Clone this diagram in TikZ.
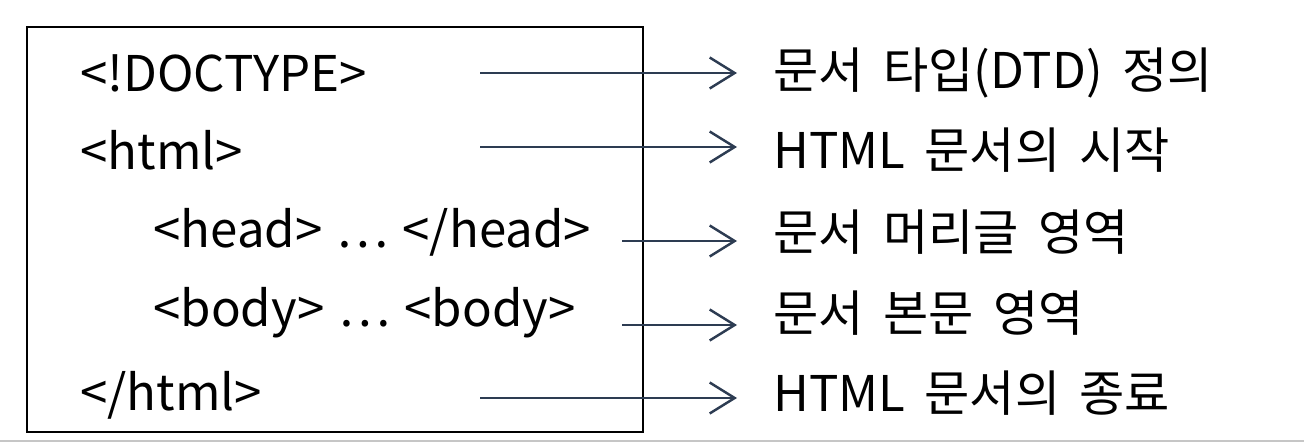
\documentclass[tikz,border=0pt]{standalone}
\usepackage{fontspec}
\setmainfont{Noto Sans CJK KR}
\usetikzlibrary{arrows.meta}
\definecolor{arrowcol}{RGB}{45,60,82}
\newcommand{\codefont}{\fontsize{28}{32}\selectfont\spaceskip=8pt\relax}
\newcommand{\descfont}{\fontsize{28}{32}\selectfont\spaceskip=11pt\relax}
\begin{document}
\begin{tikzpicture}[x=0.02cm,y=-0.02cm,
        code/.style={anchor=west,inner sep=0pt,font=\codefont},
        desc/.style={anchor=west,inner sep=0pt,font=\descfont},
        link/.style={draw=arrowcol,line width=1.4pt,-{Straight Barb[length=0.5cm,width=0.62cm,line width=1.4pt]}}]
    \useasboundingbox (0,0) rectangle (1304,446);

    % Frame
    \node[draw,line width=1.1pt,minimum width=616*0.02cm,minimum height=405*0.02cm,inner sep=0pt] (frame) at (335,229.5) {};
    \draw[gray!45,line width=1.6pt] (0,441) -- (1304,441);

    % Tags
    \node[code] (doctype) at (80,73) {<!DOCTYPE>};
    \node[code] (html) at (80,150) {<html>};
    \node[code] (head) at (153,232) {<head> … </head>};
    \node[code] (body) at (153,313) {<body> … <body>};
    \node[code] (endhtml) at (80,395) {</html>};

    % Descriptions
    \node[desc] (ddoctype) at (773,73) {문서 타입(DTD) 정의};
    \node[desc] (dhtml) at (773,150) {HTML 문서의 시작};
    \node[desc] (dhead) at (773,232) {문서 머리글 영역};
    \node[desc] (dbody) at (773,313) {문서 본문 영역};
    \node[desc] (dendhtml) at (773,393) {HTML 문서의 종료};

    % Arrow ends
    \coordinate (s1) at (480,73);  \coordinate (e1) at (737,73);
    \coordinate (s2) at (480,147); \coordinate (e2) at (737,147);
    \coordinate (s3) at (622,241); \coordinate (e3) at (737,241);
    \coordinate (s4) at (622,325); \coordinate (e4) at (737,325);
    \coordinate (s5) at (480,398); \coordinate (e5) at (737,398);

    % Arrows
    \draw[link] (s1) -- (e1);
    \draw[link] (s2) -- (e2);
    \draw[link] (s3) -- (e3);
    \draw[link] (s4) -- (e4);
    \draw[link] (s5) -- (e5);
\end{tikzpicture}
\end{document}
